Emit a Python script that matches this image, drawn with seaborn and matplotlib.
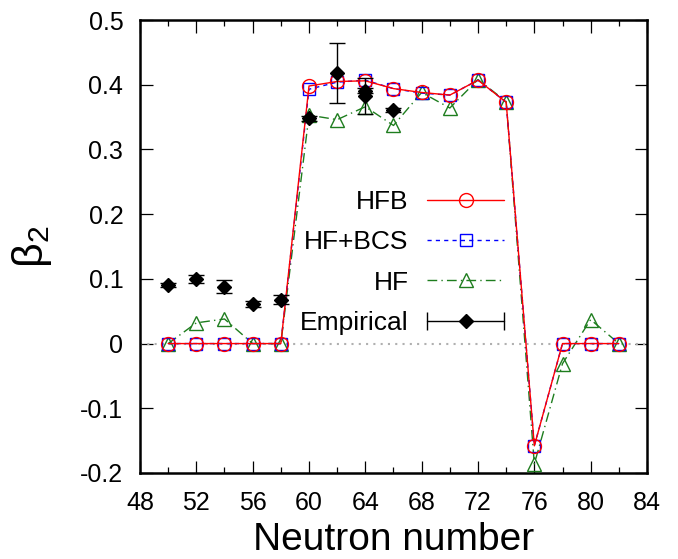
import numpy as np
import seaborn as sns
import matplotlib
matplotlib.use("Agg")
import matplotlib.pyplot as plt
from matplotlib.lines import Line2D
from matplotlib.legend_handler import HandlerLine2D, HandlerTuple

# neutron numbers for the calculations
neutrons = [50, 52, 54, 56, 58, 60, 62, 64, 66, 68, 70, 72, 74, 76, 78, 80, 82]
hfb = [0, 0, 0, 0, 0, 0.398, 0.405, 0.406, 0.394, 0.388, 0.384, 0.407, 0.373,
       -0.158, 0, 0, 0]
hf_bcs = [0, 0, 0, 0, 0, 0.393, 0.404, 0.407, 0.394, 0.387, 0.384, 0.407, 0.373,
          -0.158, 0, 0, 0]
hf = [0, 0.032, 0.038, 0, 0, 0.353, 0.346, 0.366, 0.337, 0.388, 0.364, 0.408,
      0.374, -0.186, -0.031, 0.037, 0]

# empirical values with error bars
emp_n = [50, 52, 54, 56, 58, 60, 62, 64, 64, 66]
emp_beta = [0.091, 0.100, 0.088, 0.061, 0.068, 0.348, 0.418, 0.391, 0.382, 0.361]
emp_err = [0.003, 0.006, 0.010, 0.005, 0.007, 0.004, 0.046, 0.004, 0.028, 0.003]

x_ticks = list(range(48, 85, 4))
y_ticks = [-0.2, -0.1, 0, 0.1, 0.2, 0.3, 0.4, 0.5]
y_ticklabels = ["-0.2", "-0.1", "0", "0.1", "0.2", "0.3", "0.4", "0.5"]

sns.set_style("ticks")
plt.rcParams["font.family"] = ["Liberation Sans", "DejaVu Sans"]
plt.rcParams["mathtext.fontset"] = "custom"
plt.rcParams["mathtext.rm"] = "Liberation Sans"
plt.rcParams["mathtext.it"] = "Liberation Sans"
plt.rcParams["text.color"] = "black"
plt.rcParams["axes.labelcolor"] = "black"
plt.rcParams["xtick.labelcolor"] = "black"
plt.rcParams["ytick.labelcolor"] = "black"

fig = plt.figure(figsize=(6.78, 5.59), dpi=100)
ax = fig.add_axes([140 / 678, 1 - 473 / 559, 507 / 678, 453 / 559])

ax.axhline(0, color="#b0b0b0", ls=(0, (1, 2.5)), lw=1.5, zorder=1)

green = "#1e7d1e"
sns.lineplot(x=neutrons, y=hf, ax=ax, color=green, lw=1, ls=(0, (7, 3, 1, 3)),
             marker="^", ms=10, mfc="none", mec=green, mew=1, zorder=3)
sns.lineplot(x=neutrons, y=hf_bcs, ax=ax, color="blue", lw=1, ls=(0, (3, 3)),
             marker="s", ms=9, mfc="none", mec="blue", mew=1, zorder=4)
sns.lineplot(x=neutrons, y=hfb, ax=ax, color="red", lw=1, ls="-",
             marker="o", ms=10, mfc="none", mec="red", mew=1, zorder=5)
ax.errorbar(emp_n, emp_beta, yerr=emp_err, fmt="D", color="black", ms=7,
            ecolor="black", elinewidth=1, capsize=6, capthick=1, zorder=6)

ax.set_xlim(48, 84)
ax.set_ylim(-0.2, 0.5)
ax.set_xticks(x_ticks)
ax.set_xticks(list(range(50, 84, 4)), minor=True)
ax.set_yticks(y_ticks)
ax.set_yticklabels(y_ticklabels)

ax.tick_params(which="both", direction="in", top=True, right=True,
               width=0.9, color="black", labelsize=18)
ax.tick_params(which="major", length=9)
ax.tick_params(which="minor", length=4.5)
ax.tick_params(axis="x", pad=13)
ax.tick_params(axis="y", pad=12)
for sp in ax.spines.values():
    sp.set_linewidth(1.8)
    sp.set_color("black")

ax.set_xlabel("Neutron number", fontsize=28, labelpad=5)
ax.set_ylabel(r"$\mathregular{\beta_2}$", fontsize=31, labelpad=19)

# legend handles, gnuplot style (text first, then sample)
h_hfb = Line2D([], [], color="red", lw=1, marker="o", ms=10, mfc="none", mec="red")
h_bcs = Line2D([], [], color="blue", lw=1, ls=(0, (3, 3)), marker="s", ms=9,
               mfc="none", mec="blue")
h_hf = Line2D([], [], color=green, lw=1, ls=(0, (7, 3, 1, 3)), marker="^", ms=10,
              mfc="none", mec=green)
h_bar = Line2D([], [], color="black", lw=1, marker="|", ms=13, mew=1)
h_dot = Line2D([], [], ls="none", color="black", marker="D", ms=7)

ax.legend([h_hfb, h_bcs, h_hf, (h_bar, h_dot)],
          ["HFB", "HF+BCS", "HF", "Empirical"],
          handler_map={h_bar: HandlerLine2D(numpoints=2, marker_pad=0),
                       tuple: HandlerTuple(ndivide=1)},
          loc="upper right", bbox_to_anchor=(0.718, 0.625), frameon=False,
          markerfirst=False, fontsize=19, handlelength=2.9, handletextpad=0.72,
          labelspacing=0.62, borderpad=0, borderaxespad=0)

fig.savefig("out.png", dpi=100)
